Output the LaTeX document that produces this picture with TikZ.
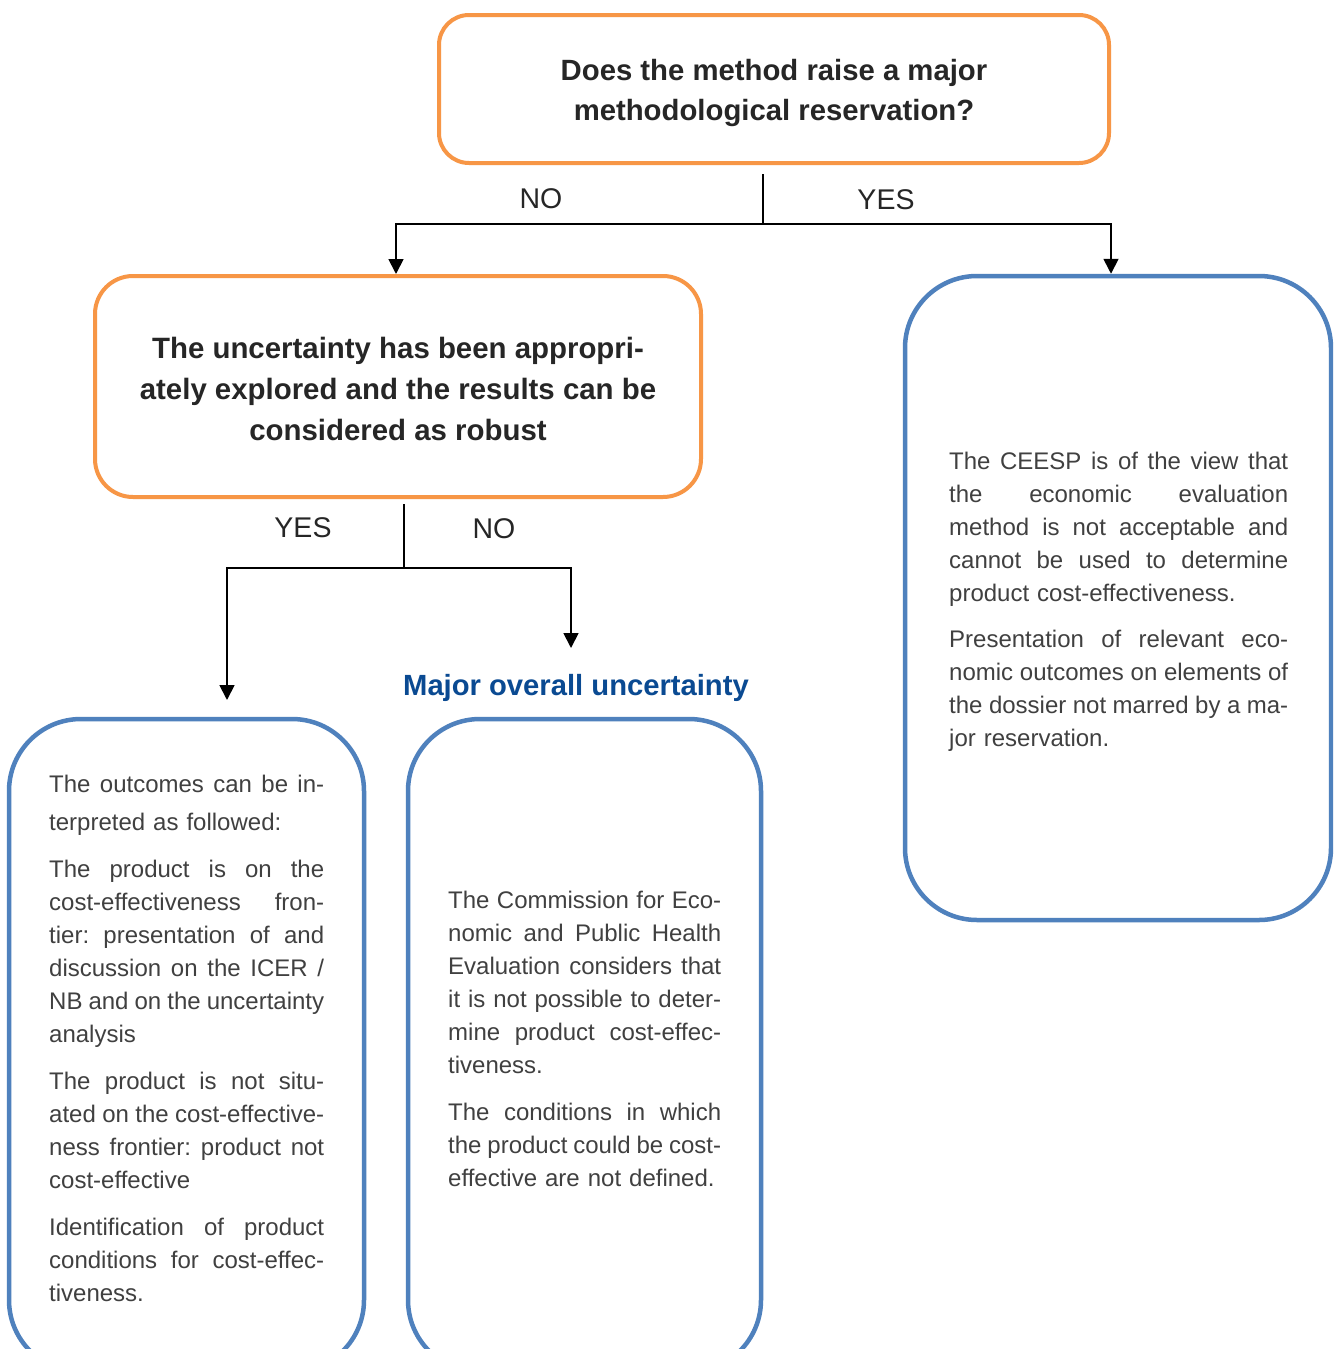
\documentclass[tikz,border=0pt]{standalone}
\usepackage{fontspec}
\setmainfont{Liberation Sans}
\usetikzlibrary{arrows.meta}
\definecolor{orng}{RGB}{247,150,70}
\definecolor{blu}{RGB}{79,129,189}
\definecolor{darktxt}{RGB}{38,38,38}
\definecolor{bodytxt}{RGB}{64,64,64}
\definecolor{headblue}{RGB}{10,74,146}
\newcommand\jl[1]{\leavevmode\hbox to\hsize{\spaceskip=0.278em plus 1fil minus 0.13em\relax #1}}
\tikzset{
  obox/.style={draw=orng, line width=4pt, inner sep=0pt},
  otext/.style={align=center, inner sep=0pt, text=darktxt},
  bbox/.style={draw=blu, line width=4.5pt, inner sep=0pt, rounded corners=72pt},
  bodytext/.style={anchor=north west, inner sep=0pt, align=left, text=bodytxt,
    font=\fontsize{24}{33}\selectfont\frenchspacing},
  lbl/.style={inner sep=0pt, text=darktxt, font=\fontsize{28.5}{34}\selectfont},
  conn/.style={draw=black, line width=1.8pt},
  arr/.style={conn, -{Triangle[width=15pt,length=15pt]}}
}
\begin{document}
\begin{tikzpicture}[x=1pt,y=-1pt]
\clip (0,0) rectangle (1333,1349);
\fill[white] (0,0) rectangle (1333,1349);

% decision boxes
\node[obox, minimum width=670pt, minimum height=148pt, rounded corners=30pt] (q1) at (774,89) {};
\node[otext, font=\fontsize{29.3}{40}\selectfont\bfseries] (q1txt) at (774,93)
  {Does the method raise a major\\methodological reservation?};
\node[obox, minimum width=606pt, minimum height=221pt, rounded corners=38pt] (q2) at (398,386.5) {};
\node[otext, font=\fontsize{29.4}{41}\selectfont\bfseries] (q2txt) at (398,389)
  {The uncertainty has been appropri-\\ately explored and the results can be\\considered as robust};

% outcome boxes
\node[bbox, minimum width=426pt, minimum height=644pt] (res) at (1118,598) {};
\node[bbox, minimum width=355pt, minimum height=653pt] (ok) at (186.5,1045.5) {};
\node[bbox, minimum width=353pt, minimum height=653pt] (nd) at (584.5,1045.5) {};

% texts of outcome boxes
\node[bodytext, text width=339pt] (restxt) at (949,451.7) {%
\jl{The CEESP is of the view that}\\
\jl{the economic evaluation}\\
\jl{method is not acceptable and}\\
\jl{cannot be used to determine}\\
product cost-effectiveness.\\[13pt]
\jl{Presentation of relevant eco-}\\
\jl{nomic outcomes on elements of}\\
\jl{the dossier not marred by a ma-}\\
jor reservation.};

\node[bodytext, text width=275pt] (oktxt) at (49,774.7) {%
\jl{The outcomes can be in-}\\[5pt]
terpreted as followed:\\[14pt]
\jl{The product is on the}\\
\jl{cost-effectiveness fron-}\\
\jl{tier: presentation of and}\\
\jl{discussion on the ICER /}\\
\jl{NB and on the uncertainty}\\
analysis\\[14pt]
\jl{The product is not situ-}\\
\jl{ated on the cost-effective-}\\
\jl{ness frontier: product not}\\
cost-effective\\[14pt]
\jl{Identification of product}\\
\jl{conditions for cost-effec-}\\
tiveness.};

\node[bodytext, text width=273pt] (ndtxt) at (448,890.7) {%
\jl{The Commission for Eco-}\\
\jl{nomic and Public Health}\\
\jl{Evaluation considers that}\\
\jl{it is not possible to deter-}\\
\jl{mine product cost-effec-}\\
tiveness.\\[14pt]
\jl{The conditions in which}\\
\jl{the product could be cost-}\\
effective are not defined.};

% heading
\node[anchor=base, inner sep=0pt, text=headblue, font=\fontsize{29.2}{34}\selectfont\bfseries]
  (mou) at (576,695) {Major overall uncertainty};

% labels
\node[lbl] (no1) at (541,199) {NO};
\node[lbl] (yes1) at (886,200) {YES};
\node[lbl] (yes2) at (303,528) {YES};
\node[lbl] (no2) at (494,529) {NO};

% connectors
\coordinate (j1) at (763,224);
\coordinate (j2) at (404,568);
\coordinate (a1) at (227,700);
\coordinate (a2) at (571,648);
\draw[conn, shorten <=9pt] (q1.south -| j1) -- (j1);
\draw[arr] (j1) -| ([xshift=-2pt]q2.north);
\draw[arr] (j1) -| ([xshift=-7pt]res.north);
\draw[conn, shorten <=5pt] (q2.south -| j2) -- (j2);
\draw[arr] (j2) -| (a1);
\draw[arr] (j2) -| (a2);
\end{tikzpicture}
\end{document}
